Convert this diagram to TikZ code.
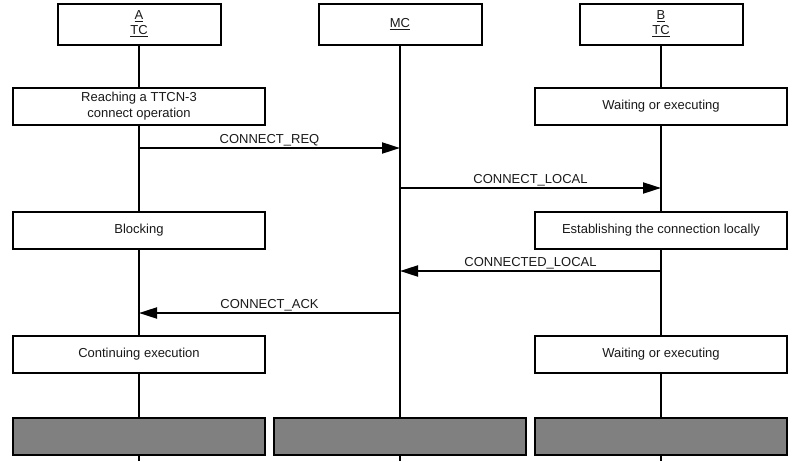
\documentclass[tikz,border=0pt]{standalone}
\usepackage{fontspec}
\setmainfont{Liberation Sans}
\usetikzlibrary{arrows.meta}
\begin{document}
\begin{tikzpicture}[x=1pt,y=-1pt,
  every node/.style={font=\fontsize{13}{16}\selectfont, text=black!90},
  headbox/.style={draw, line width=2pt, fill=white, minimum width=163pt, minimum height=41pt, inner sep=0pt, align=center},
  actbox/.style={draw, line width=2pt, fill=white, minimum width=252pt, minimum height=37pt, inner sep=0pt, align=center},
  endbox/.style={draw, line width=2pt, fill=black!50, minimum width=252pt, minimum height=37pt, inner sep=0pt},
  life/.style={line width=2pt},
  msg/.style={line width=2pt, -{Triangle[length=18pt,width=11pt]}},
  lbl/.style={above=-1pt, inner sep=2pt}]
\useasboundingbox (0,0) rectangle (800,461);
% lifeline ends
\coordinate (ea) at (139,461);
\coordinate (em) at (400,461);
\coordinate (eb) at (661,461);
% headers
\node[headbox] (ha) at (139,24) {\underline{A}\\[-1pt]\underline{TC}};
\node[headbox] (hm) at (400,24) {\underline{MC}};
\node[headbox] (hb) at (661,24) {\underline{B}\\[-1pt]\underline{TC}};
% lifelines
\draw[life] (ha.south) -- (ea);
\draw[life] (hm.south) -- (em);
\draw[life] (hb.south) -- (eb);
% action boxes
\node[actbox] (a1) at (139,106.5) {Reaching a TTCN-3\\connect operation};
\node[actbox] (b1) at (661,106.5) {Waiting or executing};
\node[actbox] (a2) at (139,230.5) {Blocking};
\node[actbox] (b2) at (661,230.5) {Establishing the connection locally};
\node[actbox] (a3) at (139,354.5) {Continuing execution};
\node[actbox] (b3) at (661,354.5) {Waiting or executing};
\node[endbox] (ga) at (139,436.5) {};
\node[endbox] (gm) at (400,436.5) {};
\node[endbox] (gb) at (661,436.5) {};
% message points
\coordinate (p1a) at (139,148); \coordinate (p1m) at (400,148);
\coordinate (p2m) at (400,188); \coordinate (p2b) at (661,188);
\coordinate (p3b) at (661,271); \coordinate (p3m) at (400,271);
\coordinate (p4m) at (400,313); \coordinate (p4a) at (139,313);
\draw[msg] (p1a) -- node[lbl] {CONNECT\_REQ} (p1m);
\draw[msg] (p2m) -- node[lbl] {CONNECT\_LOCAL} (p2b);
\draw[msg] (p3b) -- node[lbl] {CONNECTED\_LOCAL} (p3m);
\draw[msg] (p4m) -- node[lbl] {CONNECT\_ACK} (p4a);
\end{tikzpicture}
\end{document}
